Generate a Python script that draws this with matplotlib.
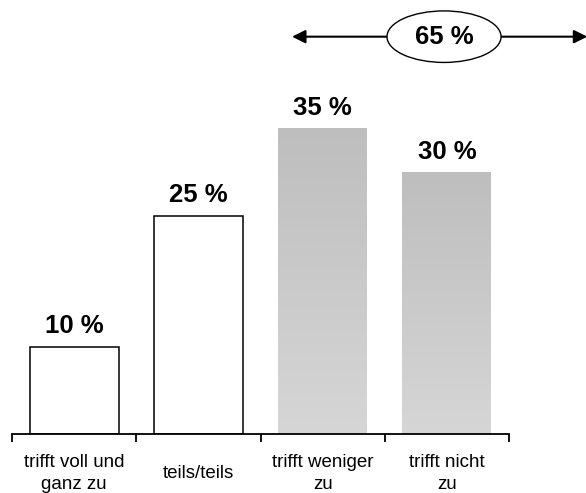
import numpy as np
import matplotlib.pyplot as plt
from matplotlib.patches import Ellipse
from matplotlib.colors import LinearSegmentedColormap

plt.rcParams['font.family'] = ['Liberation Sans', 'DejaVu Sans']

categories = ['trifft voll und\nganz zu', 'teils/teils', 'trifft weniger\nzu', 'trifft nicht\nzu']
values = [10, 25, 35, 30]
shaded = [False, False, True, True]
summary_label = '65 %'

fig = plt.figure(figsize=(5.86, 4.93), dpi=100)
ax = fig.add_axes([12 / 586, 59 / 493, 497 / 586, 434 / 493])

x = np.arange(len(categories))
bars = ax.bar(x, values, width=0.715, color='white', edgecolor='black', linewidth=1.1, zorder=2)

# gradient fill for the shaded bars (darker at top)
grad = np.linspace(0, 1, 256).reshape(-1, 1)
cmap = LinearSegmentedColormap.from_list('g', ['#d6d6d6', '#bebebe'])
for b, s in zip(bars, shaded):
    if not s:
        continue
    b.set_edgecolor('none')
    b.set_facecolor('none')
    x0, w, h = b.get_x(), b.get_width(), b.get_height()
    im = ax.imshow(grad, extent=[x0, x0 + w, 0, h], origin='lower', aspect='auto',
                   cmap=cmap, zorder=2)
    im.set_clip_path(b)

ax.set_xlim(-0.5, 3.5)
ax.set_ylim(0, 49.7)

for xi, v in zip(x, values):
    ax.annotate(f'{v} %', (xi, v), xytext=(0, 6), textcoords='offset points',
                ha='center', va='bottom', fontsize=18.5, fontweight='bold')

# axis styling
for sp in ['top', 'right', 'left']:
    ax.spines[sp].set_visible(False)
ax.spines['bottom'].set_linewidth(1.3)
ax.set_yticks([])
ax.set_xticks(np.arange(-0.5, 4, 1))
ax.set_xticklabels([])
ax.tick_params(axis='x', direction='out', length=6, width=1.3)
for xi, c in zip(x, categories):
    ax.text(xi, -4.5, c, ha='center', va='center', fontsize=13.5, linespacing=1.4, clip_on=False)

# summary arrow over the last two categories
ay = 45.5
ex, ew, eh = 2.977, 0.918, 5.9
ax.add_patch(Ellipse((ex, ay), ew, eh, facecolor='white', edgecolor='black', linewidth=1.0, clip_on=False, zorder=4))
ax.text(ex, ay, summary_label, ha='center', va='center', fontsize=18.5, fontweight='bold', zorder=5)
arrow = dict(arrowstyle='-|>', color='black', linewidth=1.5, mutation_scale=20, shrinkA=0, shrinkB=0)
ax.annotate('', xy=(1.754, ay), xytext=(ex - ew / 2, ay), arrowprops=arrow, annotation_clip=False)
ax.annotate('', xy=(4.13, ay), xytext=(ex + ew / 2, ay), arrowprops=arrow, annotation_clip=False)

fig.savefig('out.png', dpi=100)
